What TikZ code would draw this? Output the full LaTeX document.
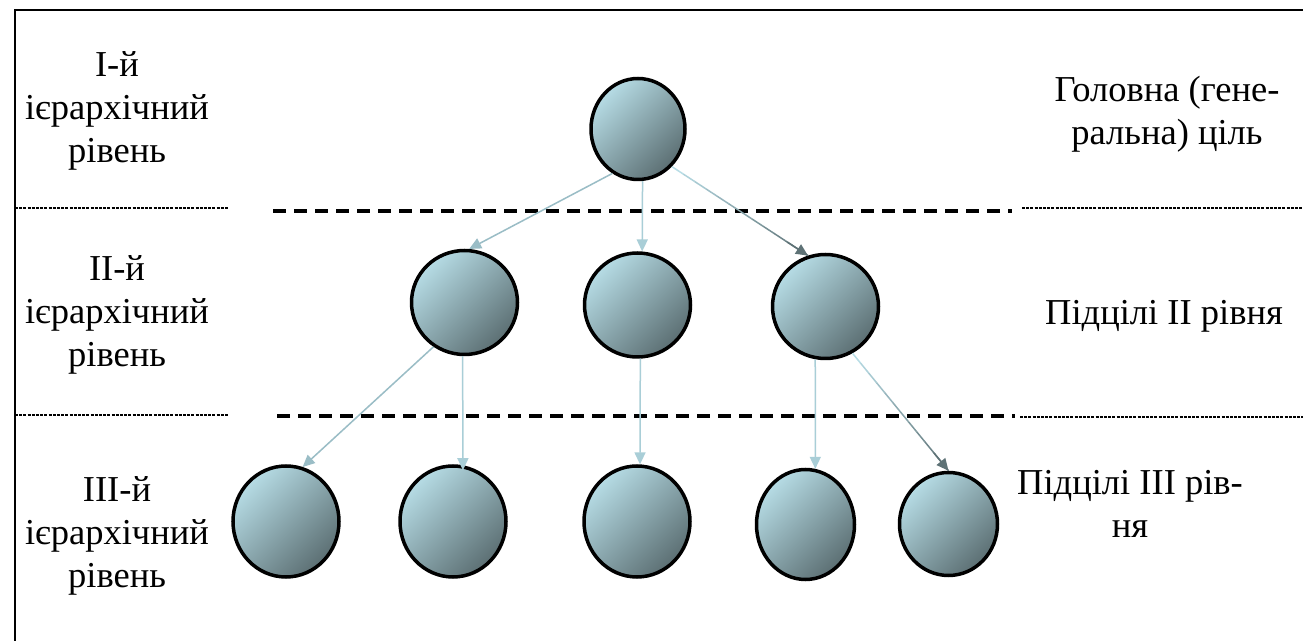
\documentclass[tikz,border=0pt]{standalone}
\usepackage{fontspec}
\setmainfont{Liberation Serif}
\usetikzlibrary{shapes.geometric,arrows.meta,calc}
\definecolor{cl}{HTML}{B6DCE5}
\definecolor{cm}{HTML}{98B9C1}
\definecolor{cd}{HTML}{5C6F73}
\definecolor{arl}{HTML}{B8DDE6}
\definecolor{ard}{HTML}{5E7276}
\definecolor{arm}{HTML}{9ABDC6}
\definecolor{arv}{HTML}{A9CED7}
\newcommand\gradarrow[2]{%
  \foreach \gi in {0,...,11}{%
    \pgfmathsetmacro\gpa{\gi/12}%
    \pgfmathsetmacro\gpb{(\gi+1)/12}%
    \pgfmathtruncatemacro\gpc{100-\gi*100/11}%
    \draw[draw=arl!\gpc!ard, line width=0.75pt] ($(#1)!\gpa!(#2)$) -- ($(#1)!\gpb!(#2)$);
  }%
  \draw[draw=ard, fill=ard, line width=0.75pt, -{Triangle[length=6pt,width=5.5pt]}] ($(#1)!0.85!(#2)$) -- (#2);
}
\begin{document}
\begin{tikzpicture}[x=0.5pt,y=-0.5pt,
  circ/.style={ellipse, draw=black, line width=1.75pt, inner sep=0pt,
    top color=cl, middle color=cm, bottom color=cd, shading angle=45},
  lbl/.style={align=center, font=\fontsize{18.25pt}{21.5pt}\selectfont, inner sep=0pt, anchor=base},
  arr/.style={line width=0.75pt, -{Triangle[length=6pt,width=5.5pt]}},
  fine/.style={line width=0.6pt, black, dash pattern=on 1.5pt off 0.6pt},
  bold/.style={line width=1.9pt, black, dash pattern=on 6.5pt off 4pt}]
\useasboundingbox (0,0) rectangle (1303,641);
\clip (0,0) rectangle (1303,641);
\fill[white] (0,0) rectangle (1303,641);
% frame (continues beyond the picture)
\draw[line width=1.4pt] (15,700) -- (15,10) -- (1340,10);
% level separators
\draw[fine] (15,208) -- (228,208);
\draw[bold] (273,211) -- (1012,211);
\draw[fine] (1022,208) -- (1303,208);
\draw[fine] (15,415) -- (228,415);
\draw[bold] (277,416) -- (1015,416);
\draw[fine] (1020,417) -- (1303,417);
% circles
\node[circ, minimum width=47pt, minimum height=50.5pt] (top) at (638,129) {};
\node[circ, minimum width=53pt, minimum height=52pt] (a) at (464.5,302.5) {};
\node[circ, minimum width=53pt, minimum height=52pt] (b) at (637.5,305) {};
\node[circ, minimum width=53pt, minimum height=52pt] (c) at (825.5,306.5) {};
\node[circ, minimum width=53pt, minimum height=55.5pt] (d) at (286,521.5) {};
\node[circ, minimum width=53pt, minimum height=55.5pt] (e) at (453,521.5) {};
\node[circ, minimum width=53pt, minimum height=55.5pt] (f) at (637,521.5) {};
\node[circ, minimum width=49pt, minimum height=55pt] (g) at (805.5,524.5) {};
\node[circ, minimum width=49pt, minimum height=51.5pt] (h) at (948.5,524) {};
% connectors
\draw[arr, draw=arm, fill=arm] (top.240) -- (a.85);
\draw[arr, draw=arv, fill=arv] (top.275) -- (b.85);
\gradarrow{top.312}{c.109}
\draw[arr, draw=arm, fill=arm] (a.235) -- (d.73);
\draw[arr, draw=arv, fill=arv, shorten >=-2.5pt] (a.268) -- (e.80);
\draw[arr, draw=arv, fill=arv] (b.273) -- (f.87);
\draw[arr, draw=arv, fill=arv] (c.259) -- (g.80.5);
\gradarrow{c.300}{h.90}
% labels (anchor = baseline of last line)
\node[lbl] (t1) at (117,163) {І-й\\ієрархічний\\рівень};
\node[lbl] (t2) at (117,367) {ІІ-й\\ієрархічний\\рівень};
\node[lbl] (t3) at (117,588) {ІІІ-й\\ієрархічний\\рівень};
\node[lbl] (r1) at (1167,145) {Головна (гене-\\ральна) ціль};
\node[lbl] (r2) at (1164,325) {Підцілі ІІ рівня};
\node[lbl] (r3) at (1130,538) {Підцілі ІІІ рів-\\ня};
\end{tikzpicture}
\end{document}
